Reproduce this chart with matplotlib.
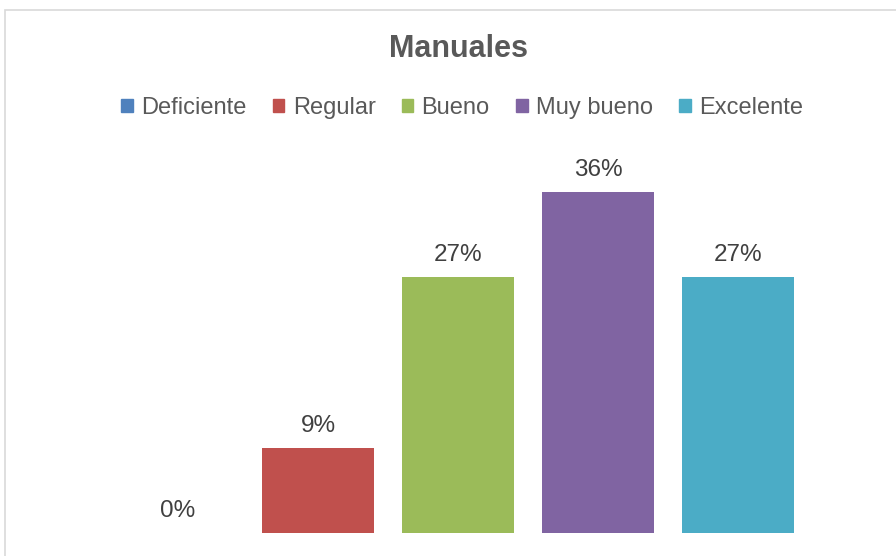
import matplotlib
matplotlib.use("Agg")
import matplotlib.pyplot as plt
from matplotlib.patches import Rectangle

categories = ["Deficiente", "Regular", "Bueno", "Muy bueno", "Excelente"]
values = [0, 9, 27, 36, 27]
labels = ["0%", "9%", "27%", "36%", "27%"]
colors = ["#4F81BD", "#C0504D", "#9BBB59", "#8064A2", "#4BACC6"]

plt.rcParams['font.family'] = ['Liberation Sans', 'DejaVu Sans']
txt = "#595959"
lbl = "#404040"

fig = plt.figure(figsize=(8.96, 5.56), dpi=100)
W, H = 896, 556
# chart border
fig.patches.append(Rectangle((4.5 / W, -0.1), 2, (H - 9.5) / H + 0.1, transform=fig.transFigure,
                             fill=False, edgecolor="#D9D9D9", linewidth=1.2))

ax = fig.add_axes([108 / W, (H - 533) / H, 700 / W, 379 / H])
x = list(range(len(categories)))
bars = ax.bar(x, values, width=0.8, color=colors)
ax.set_xlim(-0.5, 4.5)
ax.set_ylim(0, 40)
ax.axis("off")

for xi, v, lab in zip(x, values, labels):
    ax.annotate(lab, (xi, v), xytext=(0, 8), textcoords="offset points",
                ha="center", va="bottom", fontsize=17.5, color=lbl)

fig.text(458 / W, 1 - 49 / H, "Manuales", ha="center", va="center",
         fontsize=22, fontweight="bold", color=txt)

handles = [Rectangle((0, 0), 1, 1, color=c) for c in colors]
fig.legend(handles, categories, loc="center", bbox_to_anchor=(462 / W, 1 - 108 / H),
           ncol=5, frameon=False, fontsize=17, labelcolor=txt,
           handlelength=0.5, handleheight=0.5, handletextpad=0.35, columnspacing=1.1)

fig.savefig("out.png", dpi=100)
